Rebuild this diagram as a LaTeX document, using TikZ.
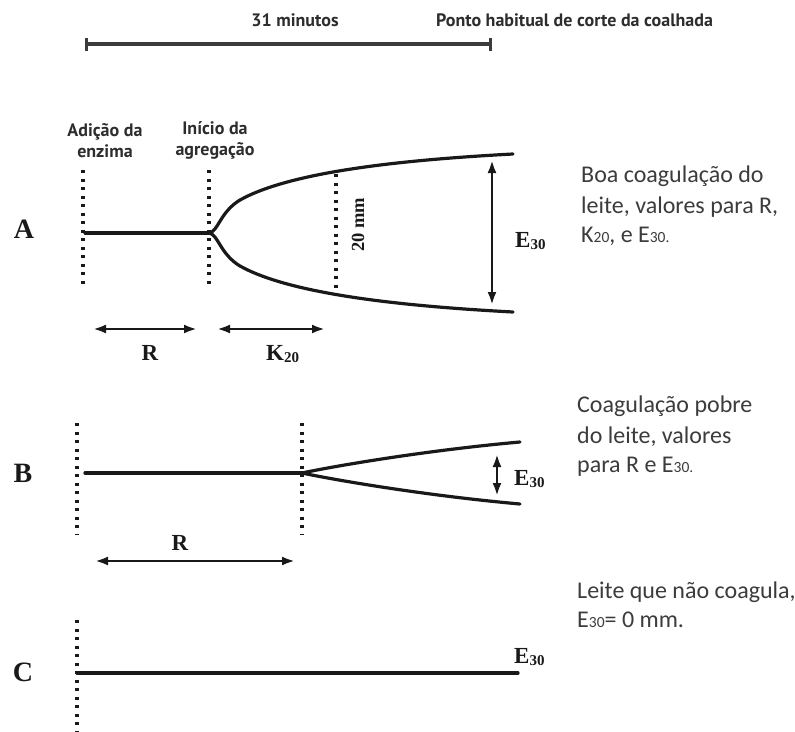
\documentclass[tikz,border=0pt]{standalone}
\usepackage{fontspec}
\setmainfont{Liberation Serif}
\newfontfamily\lblfont{PT Sans}
\newfontfamily\calfont{Carlito}
\usetikzlibrary{arrows.meta}
\definecolor{ink}{RGB}{25,25,25}
\definecolor{lbltxt}{RGB}{45,45,45}
\definecolor{desctxt}{RGB}{60,60,60}
\newcommand{\sbs}[1]{\raisebox{-2.5pt}{\fontsize{15}{15}\selectfont #1}}
\newcommand{\csb}[1]{{\fontsize{15.5}{15.5}\selectfont #1}}
\begin{document}
\begin{tikzpicture}[x=1pt,y=-1pt,
  curve/.style={line width=3.2pt, draw=ink, line cap=round},
  dots/.style={line width=3.2pt, draw=ink, dash pattern=on 3.2pt off 5.3pt},
  dim/.style={line width=2.8pt, draw=ink, {Latex[length=13pt,width=9pt]}-{Latex[length=13pt,width=9pt]}},
  lbl/.style={font=\lblfont\bfseries\fontsize{18}{21}\selectfont, text=lbltxt, inner sep=0pt, anchor=base},
  serif/.style={font=\bfseries\fontsize{23}{23}\selectfont, text=ink, inner sep=0pt, anchor=base west},
  big/.style={font=\bfseries\fontsize{28}{28}\selectfont, text=ink, inner sep=0pt, anchor=base},
  desc/.style={font=\calfont\fontsize{24}{30}\selectfont, text=desctxt, inner sep=0pt, anchor=base west}]
\useasboundingbox[fill=white] (0,0) rectangle (795,731);

% top bar
\coordinate (t0) at (85,44);
\coordinate (t1) at (492,44);
\draw[line width=3.2pt, draw=ink!85, {Bar[width=13pt]}-{Bar[width=13pt]}] (t0) -- (t1);
\node[lbl] (min) at (295,26) {31 minutos};
\node[lbl, anchor=base west] (ponto) at (436,26) {Ponto habitual de corte da coalhada};

% labels
\node[lbl] (ad1) at (105,136) {Adição da};
\node[lbl] (ad2) at (105,157) {enzima};
\node[lbl] (in1) at (215,134) {Início da};
\node[lbl] (in2) at (215,155) {agregação};

% ---------- A ----------
\node[big] (A) at (24,238) {A};
\coordinate (a0) at (85,233);
\coordinate (a1) at (209,233);
\coordinate (aU) at (513,154);
\coordinate (aL) at (513,312);
\draw[dots] (83,170) -- (83,286);
\draw[dots] (209,170) -- (209,286);
\draw[dots] (336,174) -- (336,288);
\draw[curve] (a0) -- (a1);
\draw[curve] (a1) .. controls (218,232) and (220,212) .. (240,200) .. controls (290,172) and (400,160) .. (aU);
\draw[curve] (a1) .. controls (218,234) and (220,254) .. (240,266) .. controls (290,294) and (400,306) .. (aL);
\node[font=\bfseries\fontsize{18.5}{18.5}\selectfont, text=ink, rotate=90, inner sep=0pt] (mm) at (358,225) {20 mm};
\coordinate (eA1) at (492,160);
\coordinate (eA2) at (492,305);
\draw[dim] (eA1) -- (eA2);
\node[serif] (EA) at (515,247) {E\sbs{30}};
\coordinate (rA1) at (93,329);
\coordinate (rA2) at (197,329);
\coordinate (kA1) at (217,329);
\coordinate (kA2) at (325,329);
\draw[dim] (rA1) -- (rA2);
\draw[dim] (kA1) -- (kA2);
\node[serif, anchor=base] (RA) at (150,360) {R};
\node[serif] (KA) at (266,360) {K\sbs{20}};
\node[desc] (dA1) at (581,182) {Boa coagulação do};
\node[desc] (dA2) at (581,213) {leite, valores para R,};
\node[desc] (dA3) at (581,242) {K\csb{20}, e E\csb{30.}};

% ---------- B ----------
\node[big] (B) at (23,482) {B};
\coordinate (b0) at (85,473);
\coordinate (b1) at (302,473);
\coordinate (bU) at (520,442);
\coordinate (bL) at (520,504);
\draw[dots] (77,423) -- (77,534);
\draw[dots] (302,423) -- (302,534);
\draw[curve] (b0) -- (b1);
\draw[curve] (b1) .. controls (340,465) and (430,450) .. (bU);
\draw[curve] (b1) .. controls (340,481) and (430,496) .. (bL);
\coordinate (eB1) at (497,454);
\coordinate (eB2) at (497,496);
\draw[dim] (eB1) -- (eB2);
\node[serif] (EB) at (514,485) {E\sbs{30}};
\node[serif, anchor=base] (RB) at (180,550) {R};
\coordinate (rB1) at (95,561);
\coordinate (rB2) at (295,561);
\draw[dim] (rB1) -- (rB2);
\node[desc] (dB1) at (577,412) {Coagulação pobre};
\node[desc] (dB2) at (577,443) {do leite, valores};
\node[desc] (dB3) at (577,472) {para R e E\csb{30.}};

% ---------- C ----------
\node[big] (C) at (23,681) {C};
\coordinate (c0) at (77,673);
\coordinate (c1) at (518,673);
\draw[dots] (77,620) -- (77,731);
\draw[curve] (c0) -- (c1);
\node[serif] (EC) at (514,663) {E\sbs{30}};
\node[desc] (dC1) at (577,598) {Leite que não coagula,};
\node[desc] (dC2) at (577,627) {E\csb{30}= 0 mm.};
\end{tikzpicture}
\end{document}
